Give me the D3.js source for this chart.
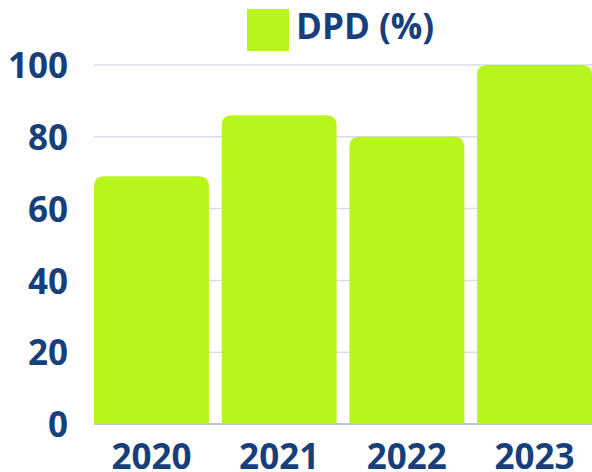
<!DOCTYPE html>
<html>
<head>
  <meta charset="utf-8">
  <title>DPD</title>
  <style>
    body { margin: 0; background: #fff; }
    svg text { font-family: "Open Sans", "Noto Sans", sans-serif; font-weight: 700; fill: #173f7b; }
  </style>
</head>
<body>
  <div id="chart"></div>
  <script src="https://cdn.jsdelivr.net/npm/d3@7"></script>
  <script>
  // data
  var years = ["2020", "2021", "2022", "2023"];
  var dpd = [69, 86, 80, 100];
  var yTicks = [0, 20, 40, 60, 80, 100];
  var seriesName = "DPD (%)";

  var w = 592, h = 472;
  var green = "#b8f41e", navy = "#173f7b";

  var svg = d3.select("#chart").append("svg")
    .attr("width", w)
    .attr("height", h);

  var x = d3.scaleBand()
    .domain(years)
    .range([94, 592])
    .paddingInner(0.1)
    .paddingOuter(0);

  var y = d3.scaleLinear()
    .domain([0, 100])
    .range([424, 65]);

  // gridlines
  svg.append("g")
    .selectAll("line")
    .data(yTicks.filter(function(d){ return d > 0; }))
    .enter().append("line")
    .attr("x1", 94).attr("x2", w)
    .attr("y1", function(d){ return y(d); })
    .attr("y2", function(d){ return y(d); })
    .attr("stroke", "#d9dde6")
    .attr("stroke-width", 1.5);

  // baseline
  svg.append("line")
    .attr("x1", 94).attr("x2", w)
    .attr("y1", y(0)).attr("y2", y(0))
    .attr("stroke", "#7089bf")
    .attr("stroke-width", 1);

  // bars with rounded top corners
  var r = 10;
  svg.append("g")
    .selectAll("path")
    .data(dpd)
    .enter().append("path")
    .attr("fill", green)
    .attr("d", function(d, i) {
      var x0 = x(years[i]), x1 = x0 + x.bandwidth();
      var yt = y(d), yb = y(0);
      return "M" + x0 + "," + yb +
        "V" + (yt + r) +
        "Q" + x0 + "," + yt + " " + (x0 + r) + "," + yt +
        "H" + (x1 - r) +
        "Q" + x1 + "," + yt + " " + x1 + "," + (yt + r) +
        "V" + yb + "Z";
    });

  // y axis
  var yAxis = d3.axisLeft(y).tickValues(yTicks).tickSize(0).tickPadding(0);
  var gy = svg.append("g")
    .attr("transform", "translate(68,0)")
    .call(yAxis);
  gy.select(".domain").remove();
  gy.selectAll("text")
    .attr("font-size", "35px")
    .attr("dy", "0.36em")
    .attr("fill", navy)
    .style("font-family", '"Open Sans", "Noto Sans", sans-serif')
    .style("font-weight", 700);

  // x axis
  var xAxis = d3.axisBottom(x).tickSize(0).tickPadding(0);
  var gx = svg.append("g")
    .attr("transform", "translate(0,469)")
    .call(xAxis);
  gx.select(".domain").remove();
  gx.selectAll("text")
    .attr("y", 0)
    .attr("dy", 0)
    .attr("font-size", "35px")
    .attr("fill", navy)
    .style("font-family", '"Open Sans", "Noto Sans", sans-serif')
    .style("font-weight", 700);

  // legend
  var lg = svg.append("g");
  lg.append("rect")
    .attr("x", 247).attr("y", 9)
    .attr("width", 42).attr("height", 42)
    .attr("fill", green);
  lg.append("text")
    .attr("x", 296).attr("y", 39)
    .attr("font-size", "35px")
    .text(seriesName);
  </script>
</body>
</html>
